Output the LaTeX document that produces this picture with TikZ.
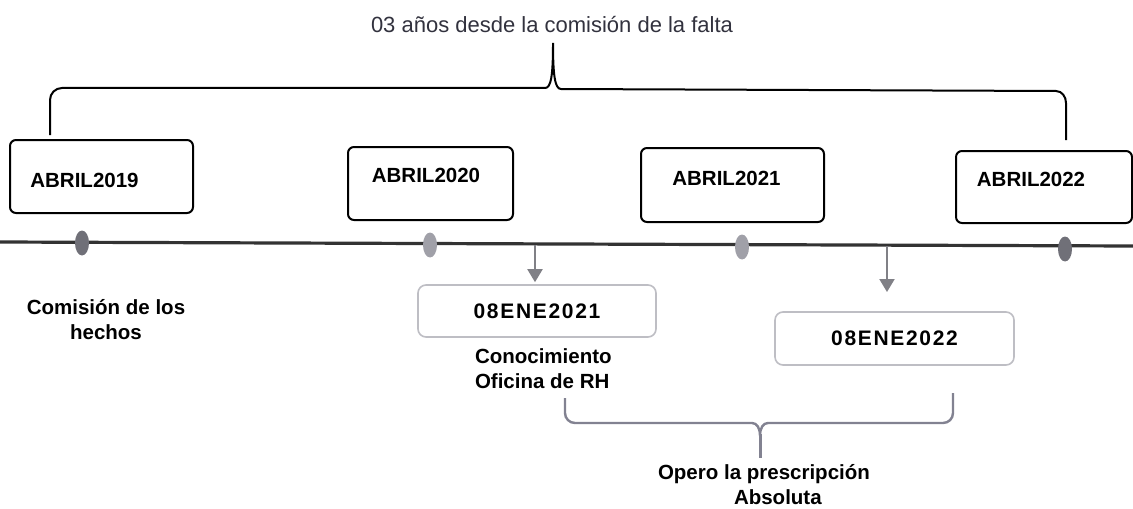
\documentclass[tikz,border=0pt]{standalone}
\usepackage{fontspec}
\setmainfont{Liberation Sans}
\newfontfamily\spacedfont[LetterSpace=8]{Liberation Sans}
\usetikzlibrary{arrows.meta}
\usetikzlibrary{shapes.geometric}
\definecolor{grey1}{RGB}{128, 128, 134}
\definecolor{grey2}{RGB}{190, 190, 196}
\definecolor{brace1}{RGB}{130, 130, 145}
\definecolor{dot1}{RGB}{160, 160, 168}
\definecolor{dot2}{RGB}{112, 112, 120}
\definecolor{title1}{RGB}{50, 50, 62}

\begin{document}
\begin{tikzpicture}[x=0.5pt, y=-0.5pt, line width=1pt,
  yearbox/.style={draw, rounded corners=3pt, line width=1pt, inner sep=0pt},
  datebox/.style={draw=grey2, rounded corners=4pt, line width=0.8pt, inner sep=0pt,
    font=\fontsize{10.5}{12}\spacedfont\bfseries},
  boldtxt/.style={font=\fontsize{10.25}{12.5}\selectfont\bfseries, inner sep=0pt},
  dotmark/.style={ellipse, minimum width=7pt, minimum height=12.5pt, inner sep=0pt},
  downarrow/.style={draw=grey1, line width=1pt, -{Triangle[width=7.5pt,length=6.5pt]}}]
  \fill[white] (0,0) rectangle (1133,508);
  \useasboundingbox (0,0) rectangle (1133,508);
  % title and upper brace
  \node[font=\fontsize{11}{13}\selectfont, text=title1, inner sep=0pt] (tt) at (552,25) {03 años desde la comisión de la falta};
  \draw (50,135) -- (50,100) to[out=90,in=180] (62,88) -- (545,88)
    .. controls (551,88) and (553,76) .. (553,43)
    .. controls (553,76) and (555,89) .. (561,89) -- (1056,91)
    to[out=0,in=90] (1066,103) -- (1066,140);
  % year boxes
  \node[yearbox, minimum width=91.5pt, minimum height=36.5pt] (b19) at (101.5,176.5) {};
  \node[yearbox, minimum width=82.5pt, minimum height=36.5pt] (b20) at (430.5,183.5) {};
  \node[yearbox, minimum width=91.5pt, minimum height=37pt] (b21) at (732.5,185) {};
  \node[yearbox, minimum width=88pt, minimum height=36pt] (b22) at (1044,187) {};
  \node[boldtxt] (t19) at (84.5,180) {ABRIL2019};
  \node[boldtxt] (t20) at (426,175) {ABRIL2020};
  \node[boldtxt] (t21) at (726.5,178) {ABRIL2021};
  \node[boldtxt] (t22) at (1031,179) {ABRIL2022};
  % time line
  \coordinate (tl) at (0,242);
  \coordinate (tr) at (1133,246);
  \draw[line width=1.6pt, black!80] (tl) -- (tr);
  \foreach \n/\x/\y/\c in {1/82/243/dot2, 2/430/245/dot1, 3/742/247/dot1, 4/1065/249/dot2}
   \node[dotmark, fill=\c] (d\n) at (\x,\y) {};
  % dates below the line
  \node[datebox, minimum width=119pt, minimum height=26pt] (e21) at (537,311) {08ENE2021};
  \node[datebox, minimum width=119.5pt, minimum height=26.5pt] (e22) at (894.5,338.5) {08ENE2022};
  \coordinate (c1) at (535,245);
  \coordinate (c2) at (887,246);
  \coordinate (c3) at (887,292);
  \draw[downarrow, shorten >=1pt] (c1) -- (c1 |- e21.north);
  \draw[downarrow] (c2) -- (c3);
  \node[boldtxt, align=center] (h1) at (106,319.5) {Comisión de los\\hechos};
  \node[boldtxt, align=left, anchor=west] (k1) at (474,368.5) {Conocimiento\\Oficina de RH};
  % lower brace
  \draw[brace1, line width=1.2pt] (565,398) -- (565,413) to[out=-90,in=180] (575,423) -- (752,423)
    .. controls (757,423) and (760,428) .. (760,436)
    .. controls (760,428) and (763,423) .. (768,423) -- (943,423)
    to[out=0,in=-90] (953,413) -- (953,393);
  \draw[brace1, line width=1.5pt] (760,434) -- (760,458);
  \node[boldtxt, align=left, anchor=west] (p1) at (657,485) {Opero la prescripción\\\hspace*{38pt}Absoluta};
\end{tikzpicture}
\end{document}
